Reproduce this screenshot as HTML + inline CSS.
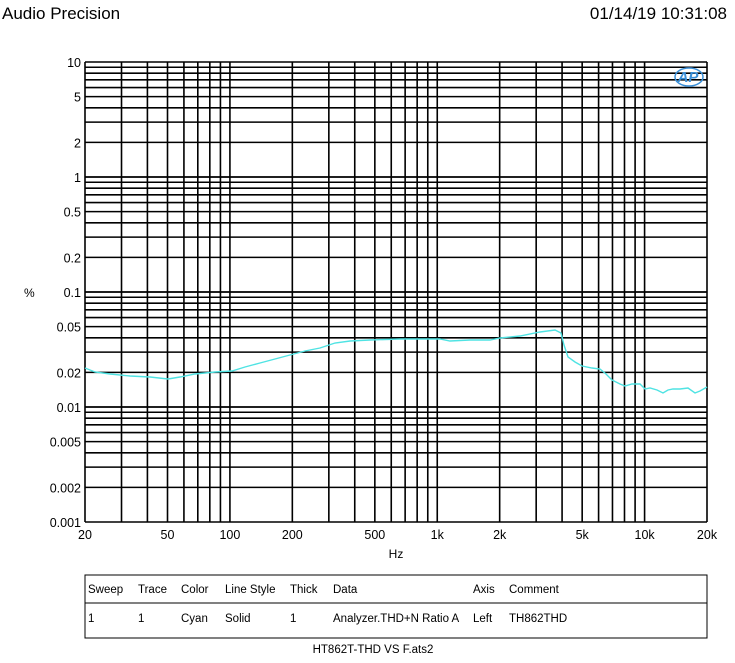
<!DOCTYPE html><html><head><style>body{margin:0;background:#fff;}</style></head><body>
<svg width="735" height="658" xmlns="http://www.w3.org/2000/svg" font-family="Liberation Sans, sans-serif">
<rect width="735" height="658" fill="#fff"/>
<text x="2" y="19" font-size="17">Audio Precision</text>
<text x="727" y="19" font-size="17" text-anchor="end">01/14/19 10:31:08</text>
<g id="grid" stroke="#000" stroke-width="1.6"></g>
<g id="lab" font-size="12.5"></g>
<text x="24" y="297" font-size="12">%</text>
<text x="396" y="558" font-size="12" text-anchor="middle">Hz</text>
<text x="688" y="82" font-size="15" font-style="italic" fill="#3a8fd8" text-anchor="middle" font-weight="bold">AP</text>
<ellipse cx="689" cy="77" rx="14" ry="9" fill="none" stroke="#3a8fd8" stroke-width="1.5"/>
<polyline fill="none" stroke="#4fe3e3" stroke-width="1.4" points="85,368 95,372 110,374 130,376 150,377 168,379 180,377 195,374 215,372 232,371 245,367 260,363 275,359 290,355 305,351 320,348 335,343 350,341 370,340 400,339 420,339 440,339 450,341 470,340 490,340 500,338 520,336 540,332 555,330 561,333 564,345 568,357 575,362 582,366 592,368 600,369 606,374 612,380 620,384 625,386 632,384 640,384 645,389 650,388 657,390 663,393 668,390 673,389 680,389 688,388 695,393 700,391 707,387"/>
<rect x="85" y="575" width="622" height="63" fill="none" stroke="#000" stroke-width="1"/>
<line x1="85" y1="603" x2="707" y2="603" stroke="#000" stroke-width="1"/>
<g font-size="11.5">
<text x="88" y="593">Sweep</text><text x="138" y="593">Trace</text><text x="181" y="593">Color</text><text x="225" y="593">Line Style</text><text x="290" y="593">Thick</text><text x="333" y="593">Data</text><text x="473" y="593">Axis</text><text x="509" y="593">Comment</text>
<text x="88" y="622">1</text><text x="138" y="622">1</text><text x="181" y="622">Cyan</text><text x="225" y="622">Solid</text><text x="290" y="622">1</text><text x="333" y="622">Analyzer.THD+N Ratio A</text><text x="473" y="622">Left</text><text x="509" y="622">TH862THD</text>
</g>
<text x="373" y="653" font-size="11.5" text-anchor="middle">HT862T-THD VS F.ats2</text>
<script>
var g=document.getElementById('grid'),L=document.getElementById('lab'),ns='http://www.w3.org/2000/svg';
var X0=85,X1=707,Y0=62,Y1=522;
function fx(f){return X0+(Math.log10(f)-Math.log10(20))*(X1-X0)/3;}
function fy(v){return Y0+(1-Math.log10(v))*(Y1-Y0)/4;}
function ln(a,b,c,d){var l=document.createElementNS(ns,'line');l.setAttribute('x1',a);l.setAttribute('y1',b);l.setAttribute('x2',c);l.setAttribute('y2',d);g.appendChild(l);}
function tx(x,y,s,a){var t=document.createElementNS(ns,'text');t.setAttribute('x',x);t.setAttribute('y',y);t.setAttribute('text-anchor',a);t.textContent=s;L.appendChild(t);}
for(var d=10;d<=10000;d*=10)for(var m=1;m<10;m++){var f=d*m;if(f<20||f>20000)continue;ln(fx(f),Y0,fx(f),Y1);}
for(var e=-3;e<=0;e++)for(var m=1;m<=10;m++){var v=Math.pow(10,e)*m;ln(X0,fy(v),X1,fy(v));}
var yl=[[10,'10'],[5,'5'],[2,'2'],[1,'1'],[.5,'0.5'],[.2,'0.2'],[.1,'0.1'],[.05,'0.05'],[.02,'0.02'],[.01,'0.01'],[.005,'0.005'],[.002,'0.002'],[.001,'0.001']];
yl.forEach(function(a){tx(81,fy(a[0])+5,a[1],'end');});
var xl=[[20,'20'],[50,'50'],[100,'100'],[200,'200'],[500,'500'],[1000,'1k'],[2000,'2k'],[5000,'5k'],[10000,'10k'],[20000,'20k']];
xl.forEach(function(a){tx(fx(a[0]),539,a[1],'middle');});
</script>
</svg></body></html>
